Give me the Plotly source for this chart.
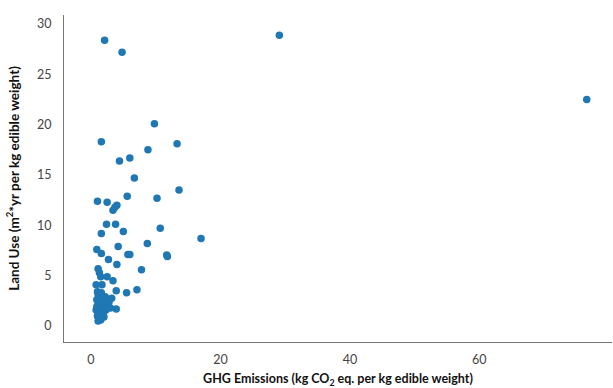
import plotly.graph_objects as go

ghg = [2.1, 4.8, 29.1, 76.6, 9.8, 1.6, 13.3, 8.8, 6.0, 4.4, 6.7, 13.6, 5.6, 10.2,
       1.0, 2.5, 4.0, 3.7, 3.4, 2.4, 3.8, 10.7, 1.6, 5.0, 17.0, 8.7, 4.2, 0.9,
       1.6, 5.7, 6.0, 11.7, 11.8, 2.7, 4.0, 7.8, 1.1, 1.3, 1.5, 2.5, 3.4, 0.8,
       1.7, 1.0, 3.9, 5.5, 7.1, 3.2, 2.8, 3.9, 2.5, 2.0, 2.2,
       1.1, 1.4, 1.8, 0.9, 1.2, 1.6, 2.1, 1.0, 1.3, 1.7, 2.3, 0.8, 1.2, 1.5,
       1.9, 1.1, 1.4, 1.8, 1.0, 1.3, 1.6, 2.0, 1.2, 1.5, 1.1, 1.4, 1.7, 1.3,
       1.2, 1.6, 2.6, 3.0, 1.9, 0.9]
land = [28.4, 27.2, 28.9, 22.5, 20.1, 18.3, 18.1, 17.5, 16.7, 16.4, 14.7, 13.5, 12.9, 12.7,
        12.4, 12.3, 12.0, 11.8, 11.5, 10.1, 10.1, 9.7, 9.2, 9.4, 8.7, 8.2, 7.9, 7.6,
        7.2, 7.1, 7.1, 7.05, 6.9, 6.6, 6.1, 5.6, 5.7, 5.3, 4.9, 4.9, 4.5, 4.1,
        4.1, 3.4, 3.5, 3.3, 3.6, 2.75, 2.4, 1.7, 2.1, 2.6, 2.9,
        3.1, 2.8, 2.5, 2.6, 2.3, 2.2, 2.0, 2.0, 1.9, 1.8, 1.6, 1.6, 1.5, 1.4,
        1.3, 1.2, 1.1, 1.0, 1.0, 0.9, 0.8, 0.9, 0.7, 0.6, 0.5, 1.6, 1.3, 2.4,
        3.0, 3.3, 2.2, 1.8, 1.1, 1.9]

fig = go.Figure(go.Scatter(
    x=ghg, y=land, mode="markers",
    marker=dict(color="#1f77b4", size=7.5),
))

axis_font = dict(family="Lato, Liberation Sans, sans-serif", size=12.5, color="#444444")
title_font_x = dict(family="Lato, Liberation Sans, sans-serif", size=12.5, color="#111111")
title_font_y = dict(family="Lato, Liberation Sans, sans-serif", size=13.5, color="#111111")

fig.update_layout(
    width=613, height=388,
    margin=dict(l=64, r=1, t=15, b=46),
    plot_bgcolor="white", paper_bgcolor="white",
    showlegend=False,
    xaxis=dict(
        range=[-4.17, 80.5], tickvals=[0, 20, 40, 60], showgrid=False, zeroline=False,
        showline=True, linecolor="#777777", linewidth=1, ticks="",
        tickfont=axis_font, ticklabelstandoff=6, automargin=False,
        title=dict(text="<b>GHG Emissions (kg CO<sub>2</sub> eq. per kg edible weight)</b>",
                   font=title_font_x, standoff=10),
    ),
    yaxis=dict(
        range=[-1.59, 30.9], tickvals=[0, 5, 10, 15, 20, 25, 30], showgrid=False, zeroline=False,
        showline=True, linecolor="#777777", linewidth=1, ticks="",
        tickfont=axis_font, ticklabelstandoff=9, automargin=False,
        title=dict(text="<b>Land Use (m<sup>2</sup>*yr per kg edible weight)</b>",
                   font=title_font_y, standoff=14),
    ),
)

fig.write_html(
    "out.html",
    config={"displayModeBar": False},
    post_script="document.body.style.margin='0';document.body.style.overflow='hidden';",
)
